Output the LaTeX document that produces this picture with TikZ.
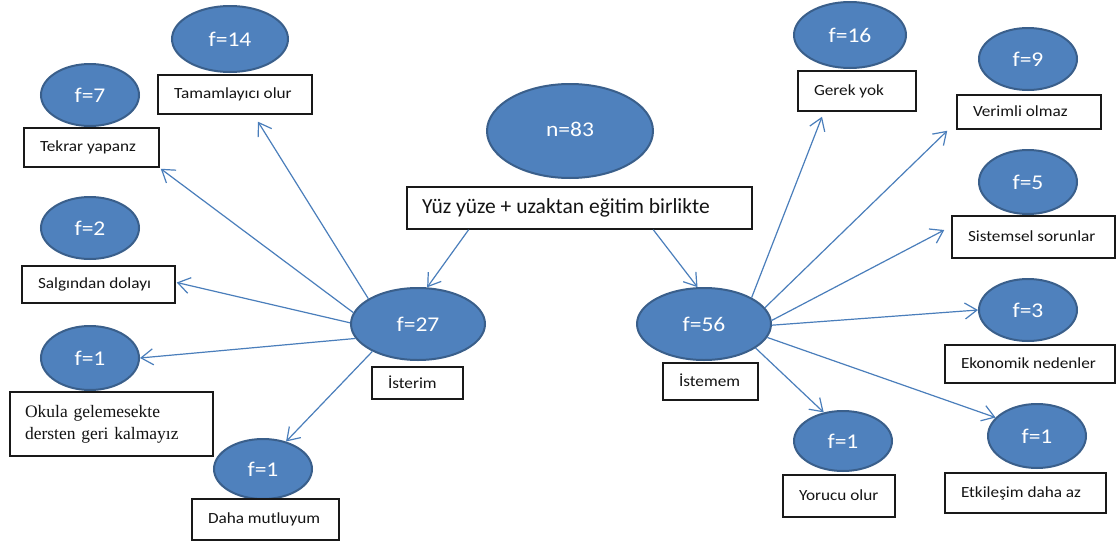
\documentclass[tikz,border=0pt]{standalone}
\usepackage{fontspec}
\setmainfont{Carlito}
\newfontfamily\ellfont[FakeStretch=1.12]{Carlito}
\newfontfamily\boxfont[FakeStretch=1.11]{Carlito}
\newfontfamily\serifbox{Liberation Serif}
\usetikzlibrary{arrows.meta,calc,shapes.geometric}
\definecolor{ellfill}{HTML}{4F81BD}
\definecolor{ellline}{HTML}{3A5F8B}
\definecolor{arrcol}{HTML}{4A7EBB}
\definecolor{boxtxt}{HTML}{141414}
\newcommand\boxtext[2]{\raisebox{2pt}{\makebox[\dimexpr#1pt-32pt\relax][l]{#2}}}
\begin{document}
\begin{tikzpicture}[x=1pt,y=-1pt,
  ell/.style={ellipse, draw=ellline, fill=ellfill, line width=2pt, inner sep=0pt,
    text=white, font=\ellfont\fontsize{21}{24}\selectfont},
  smallell/.style={ell, minimum width=98pt},
  txtbox/.style={rectangle, draw=black!90, line width=1.5pt, fill=white,
    inner xsep=16pt, inner ysep=0pt, text=boxtxt,
    font=\boxfont\fontsize{15.5}{18}\selectfont},
  arr/.style={draw=arrcol, line width=1.2pt, -{Straight Barb[length=12pt,width=16pt]}}
]
\useasboundingbox (0,0) rectangle (1117,541);
\fill[white] (0,0) rectangle (1117,541);

% central
\node[ell, minimum width=166pt, minimum height=94pt] (n83) at (570,131) {\raisebox{4pt}{n=83}};
\node[txtbox, inner xsep=15pt, minimum height=42pt,
  font=\fontsize{21.5}{26}\selectfont] (yuz) at (579.5,208)
  {\makebox[315pt][l]{Yüz yüze + uzaktan eğitim birlikte}};

% left cluster
\node[ell, minimum width=134pt, minimum height=72pt] (f27) at (418,324) {f=27};
\node[txtbox, minimum height=32pt] (isterim) at (417.5,383) {\boxtext{91}{İsterim}};

\node[ell, minimum width=116pt, minimum height=66pt] (f14) at (230,39) {f=14};
\node[txtbox, minimum height=39pt] (tam) at (235,94.5) {\boxtext{154}{Tamamlayıcı olur}};

\node[smallell, minimum height=62pt] (f7) at (90,95) {f=7};
\node[txtbox, minimum height=39pt] (tekrar) at (91.5,147.5) {\boxtext{135}{Tekrar yapanz}};

\node[smallell, minimum height=62pt] (f2) at (90,228) {f=2};
\node[txtbox, minimum height=37pt] (salg) at (98.5,284.5) {\boxtext{153}{Salgından dolayı}};

\node[smallell, minimum height=64pt] (f1a) at (90,358) {f=1};
\node[txtbox, minimum height=64pt, inner xsep=15pt, text width=173pt, align=left,
  font=\serifbox\fontsize{17.5}{22}\selectfont] (okula) at (111.5,424)
  {Okula gelemesekte\\dersten geri kalmayız};

\node[smallell, minimum height=60pt] (f1b) at (263,469) {f=1};
\node[txtbox, minimum height=41pt] (daha) at (265.5,519.5) {\boxtext{147}{Daha mutluyum}};

% right cluster
\node[ell, minimum width=134pt, minimum height=72pt] (f56) at (704,324) {f=56};
\node[txtbox, minimum height=37pt] (istemem) at (710.5,381.5) {\boxtext{95}{İstemem}};

\node[ell, minimum width=112pt, minimum height=66pt] (f16) at (850,35) {f=16};
\node[txtbox, minimum height=40pt] (gerek) at (857,91) {\boxtext{118}{Gerek yok}};

\node[smallell, minimum height=62pt] (f9) at (1028,59) {f=9};
\node[txtbox, minimum height=34pt] (verimli) at (1029,112) {\boxtext{144}{Verimli olmaz}};

\node[smallell, minimum height=64pt] (f5) at (1028,182) {f=5};
\node[txtbox, minimum height=42pt] (sist) at (1033.5,237) {\boxtext{163}{Sistemsel sorunlar}};

\node[smallell, minimum height=62pt] (f3) at (1028,310) {f=3};
\node[txtbox, minimum height=38pt] (ekon) at (1030,364) {\boxtext{170}{Ekonomik nedenler}};

\node[smallell, minimum height=60pt] (f1c) at (843,441) {f=1};
\node[txtbox, minimum height=42pt] (yorucu) at (839,496) {\boxtext{112}{Yorucu olur}};

\node[smallell, minimum height=64pt] (f1d) at (1037,436) {f=1};
\node[txtbox, minimum height=40pt] (etki) at (1025.5,493) {\boxtext{161}{Etkileşim daha az}};

% connectors
\draw[arr] ($(yuz.south west)!0.18!(yuz.south east)$) -- (f27.76);
\draw[arr] ($(yuz.south west)!0.713!(yuz.south east)$) -- (f56.100);

\draw[arr] (f27.153) -- ($(tam.south)+(23,7)$);
\draw[arr] (f27.170) -- ($(tekrar.south east)+(1,1)$);
\draw[arr] (f27.179) -- ($(salg.east)+(1,-2)$);
\draw[arr] (f27.193) -- (f1a.east);
\draw[arr] (f27.211) -- (f1b.50);

\draw[arr] (f56.29) -- ($(gerek.south)+(-35,5)$);
\draw[arr] (f56.15) -- ($(verimli.south west)+(-9,1)$);
\draw[arr] (f56.3) -- ($(sist.west)+(-7,-7)$);
\draw[arr] (f56.359) -- (f3.west);
\draw[arr] (f56.348) -- (f1d.156);
\draw[arr] (f56.335) -- (f1c.124);
\end{tikzpicture}
\end{document}
